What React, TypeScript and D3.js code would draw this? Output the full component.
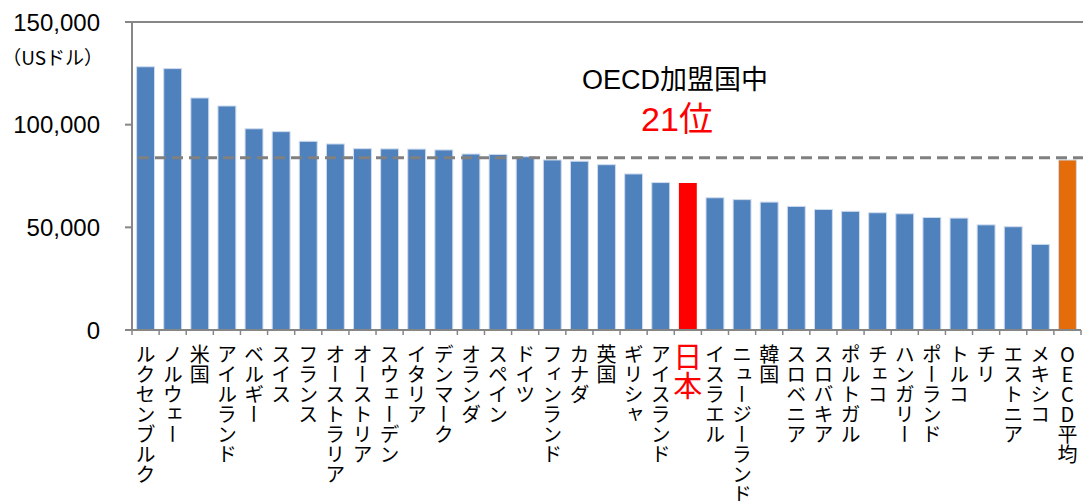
import React from "react";
import * as d3 from "d3";

const categories = [
  "ルクセンブルク", "ノルウェー", "米国", "アイルランド", "ベルギー", "スイス", "フランス",
  "オーストラリア", "オーストリア", "スウェーデン", "イタリア", "デンマーク", "オランダ", "スペイン",
  "ドイツ", "フィンランド", "カナダ", "英国", "ギリシャ", "アイスランド", "日本", "イスラエル",
  "ニュージーランド", "韓国", "スロベニア", "スロバキア", "ポルトガル", "チェコ", "ハンガリー",
  "ポーランド", "トルコ", "チリ", "エストニア", "メキシコ", "OECD平均",
];
const values = [
  128200, 127300, 113000, 109100, 98000, 96600, 91900,
  90600, 88300, 88200, 88100, 87700, 85700, 85500,
  84400, 82800, 82200, 80500, 76000, 71800, 71600, 64400,
  63500, 62300, 60200, 58700, 57800, 57100, 56600,
  54800, 54500, 51200, 50300, 41700, 82800,
];
const yTicks = [0, 50000, 100000, 150000];
const oecdAverageLine = 83900;
const japan = "日本";
const oecdAvg = "OECD平均";
const annotation1 = "OECD加盟国中";
const annotation2 = "21位";
const unitLabel = "（USドル）";

const W = 1083;
const H = 501;
const LEFT = 132;
const RIGHT = 1081;
const TOP = 22;
const BOTTOM = 330;

const FONT = "'Liberation Sans', Arial, 'Noto Sans CJK JP', sans-serif";
const JFONT = "'Noto Sans CJK JP', 'Liberation Sans', sans-serif";

export default function App() {
  const x = d3.scaleBand<string>().domain(categories).range([LEFT, RIGHT]).paddingInner(0.34).paddingOuter(0.17);
  const y = d3.scaleLinear().domain([0, 150000]).range([BOTTOM, TOP]);
  const fmt = d3.format(",");
  const step = x.step();

  const colorFor = (c: string) => (c === japan ? "#FF0000" : c === oecdAvg ? "#E46C0A" : "#4F81BD");

  return (
    <svg width={W} height={H} style={{ position: "absolute", left: 0, top: 0, background: "#fff" }}>
      {/* top line */}
      <line x1={LEFT - 7} x2={W} y1={y(150000)} y2={y(150000)} stroke="#868686" strokeWidth={2} />
      {/* bars */}
      {categories.map((c, i) => (
        <rect
          key={c}
          x={x(c)}
          y={y(values[i])}
          width={x.bandwidth()}
          height={BOTTOM - y(values[i])}
          fill={colorFor(c)}
          stroke={c === japan ? "none" : "#cfdcee"}
          strokeWidth={1}
        />
      ))}
      {/* average dashed line */}
      <line
        x1={LEFT + 6}
        x2={W}
        y1={y(oecdAverageLine)}
        y2={y(oecdAverageLine)}
        stroke="#808080"
        strokeWidth={3}
        strokeDasharray="11 6"
      />
      {/* y axis */}
      <line x1={LEFT} x2={LEFT} y1={TOP} y2={BOTTOM} stroke="#868686" strokeWidth={2} />
      {yTicks.map((t) => (
        <g key={t}>
          <line x1={LEFT - 7} x2={LEFT} y1={y(t)} y2={y(t)} stroke="#868686" strokeWidth={2} />
          <text
            x={100}
            y={y(t)}
            textAnchor="end"
            dominantBaseline="central"
            fontFamily={FONT}
            fontSize={24}
            fill="#000"
          >
            {fmt(t)}
          </text>
        </g>
      ))}
      <text x={103} y={56} textAnchor="end" dominantBaseline="central" fontFamily={JFONT} fontSize={19} fill="#000">
        {unitLabel}
      </text>
      {/* x axis */}
      <line x1={LEFT} x2={RIGHT} y1={BOTTOM} y2={BOTTOM} stroke="#868686" strokeWidth={2} />
      {categories.map((c, i) => (
        <line
          key={"t" + c}
          x1={LEFT + i * step}
          x2={LEFT + i * step}
          y1={BOTTOM}
          y2={BOTTOM + 5}
          stroke="#868686"
          strokeWidth={1.5}
        />
      ))}
      <line x1={RIGHT} x2={RIGHT} y1={BOTTOM} y2={BOTTOM + 5} stroke="#868686" strokeWidth={1.5} />
      {/* category labels */}
      {categories.map((c) => {
        const cx = (x(c) as number) + x.bandwidth() / 2;
        const isJ = c === japan;
        return (
          <text
            key={"l" + c}
            x={cx}
            y={isJ ? 342 : 344}
            fontFamily={JFONT}
            fontSize={isJ ? 29 : 20}
            fill={isJ ? "#FF0000" : "#000"}
            style={{ writingMode: "vertical-rl", textOrientation: "upright" } as any}
          >
            {c}
          </text>
        );
      })}
      {/* annotation */}
      <text x={675} y={80} textAnchor="middle" dominantBaseline="central" fontFamily={FONT} fontSize={27} fill="#000">
        {annotation1}
      </text>
      <text x={677} y={119} textAnchor="middle" dominantBaseline="central" fontFamily={FONT} fontSize={34} fill="#FF0000">
        {annotation2}
      </text>
    </svg>
  );
}
